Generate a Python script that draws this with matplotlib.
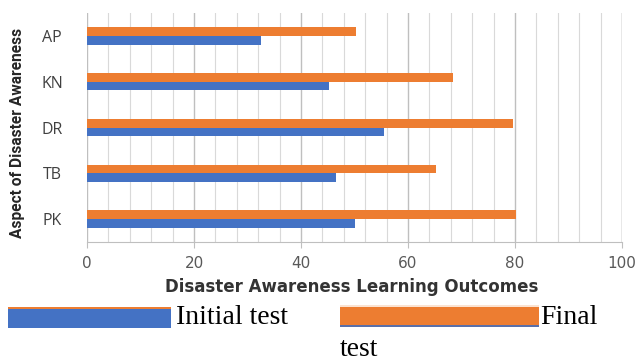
import numpy as np
import matplotlib
matplotlib.use('Agg')
import matplotlib.pyplot as plt
from matplotlib.patches import Rectangle

categories = ['AP', 'KN', 'DR', 'TB', 'PK']
initial_test = [32.5, 45.2, 55.5, 46.5, 50.1]
final_test = [50.3, 68.4, 79.6, 65.2, 80.2]

blue = '#4472C4'
orange = '#ED7D31'
W, H = 637, 361

fig = plt.figure(figsize=(6.37, 3.61), dpi=100)
ax = fig.add_axes([87 / W, 1 - 242 / H, 535 / W, 229 / H])

y = np.arange(len(categories))
bh = 0.19
ax.barh(y - bh / 2, final_test, height=bh, color=orange, zorder=3)
ax.barh(y + bh / 2, initial_test, height=bh, color=blue, zorder=3)

ax.set_xlim(0, 100)
ax.set_ylim(4.5, -0.5)
ax.set_yticks(y)
ax.set_yticklabels(categories, fontfamily='Open Sans', fontsize=11.5,
                   color='#404040', ha='center')
ax.tick_params(axis='y', length=0, pad=25)

ax.set_xticks(np.arange(0, 101, 20))
ax.set_xticks(np.arange(0, 101, 4), minor=True)
for lbl in ax.get_xticklabels():
    lbl.set_fontfamily('DejaVu Sans')
    lbl.set_fontsize(11)
    lbl.set_color('#595959')
ax.tick_params(axis='x', which='major', length=4, color='#BFBFBF', pad=6)
ax.tick_params(axis='x', which='minor', length=0)
ax.grid(axis='x', which='minor', color='#D9D9D9', linewidth=0.8, zorder=0)
ax.grid(axis='x', which='major', color='#BFBFBF', linewidth=1.0, zorder=0)

for s in ['top', 'right', 'left']:
    ax.spines[s].set_visible(False)
ax.spines['bottom'].set_color('#BFBFBF')
ax.axvline(100, color='#BFBFBF', linewidth=1.0, zorder=1)

# axis titles
fig.text(18 / W, 1 - 133 / H, 'Aspect of Disaster Awareness', rotation=90,
         ha='center', va='center', fontsize=11.2, fontweight='bold',
         family=['Roboto', 'DejaVu Sans'], color='#262626')
fig.text(352 / W, 1 - 287 / H, 'Disaster Awareness Learning Outcomes',
         ha='center', va='center', fontsize=12, fontweight='bold',
         fontfamily='DejaVu Sans', color='#333333')

# legend drawn below as in the source
def px_rect(x0, y0, x1, y1, c):
    fig.add_artist(Rectangle((x0 / W, 1 - y1 / H), (x1 - x0) / W, (y1 - y0) / H,
                             transform=fig.transFigure, color=c, lw=0))

px_rect(8, 307, 171, 328, blue)
px_rect(8, 307, 171, 309, orange)
px_rect(340, 305, 539, 307, '#FBE3D2')
px_rect(340, 307, 539, 327, orange)
px_rect(340, 325, 539, 327, '#5A6FA8')

fig.text(176 / W, 1 - 318 / H, 'Initial test', ha='left', va='center',
         fontsize=20, fontfamily='Liberation Serif', color='black')
fig.text(540 / W, 1 - 318 / H, 'Final', ha='left', va='center',
         fontsize=20, fontfamily='Liberation Serif', color='black')
fig.text(340 / W, 1 - 350 / H, 'test', ha='left', va='center',
         fontsize=20, fontfamily='Liberation Serif', color='black')

fig.savefig('out.png', dpi=100)
